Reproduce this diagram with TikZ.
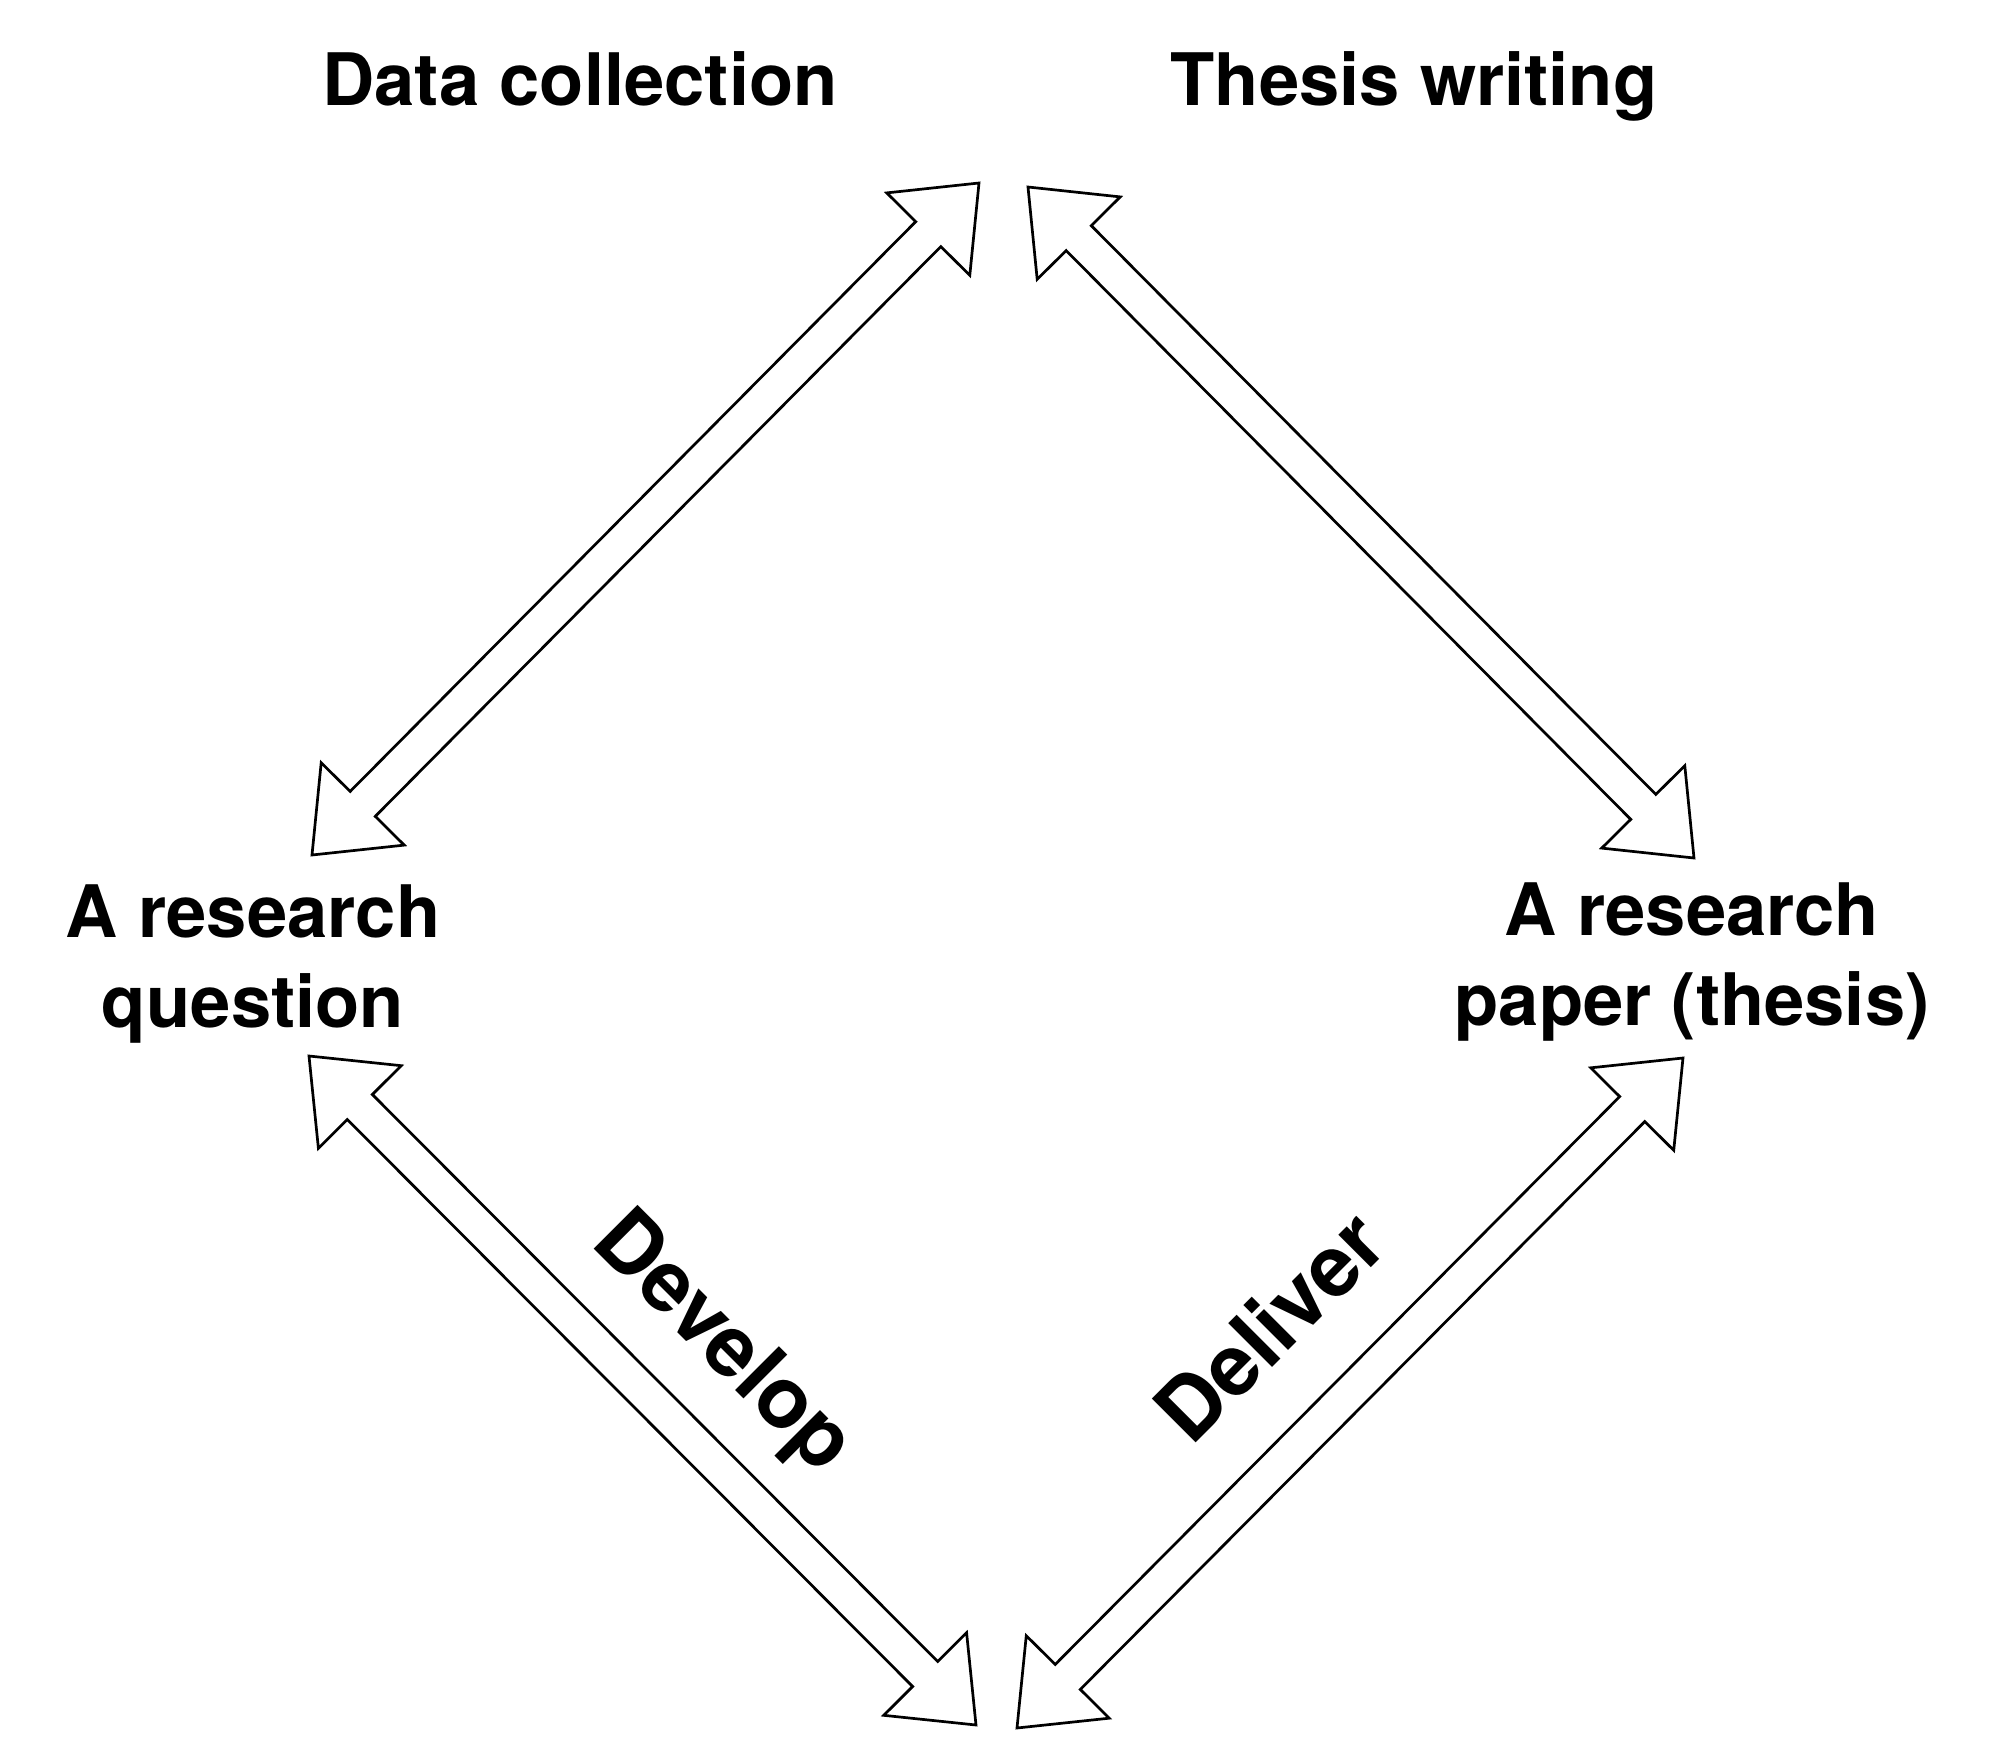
\documentclass[tikz,border=0pt]{standalone}
\usepackage{fontspec}
\setmainfont{TeX Gyre Heros}
\usetikzlibrary{calc}
\newcommand{\ahlen}{7.2mm}
\newcommand{\ahwid}{5.85mm}
\newcommand{\shwid}{1.77mm}
\newcommand{\dblarr}[2]{%
  \draw[arrowbody] (#1)
    -- ($(#1)!\ahlen!(#2)!\ahwid!90:(#2)$)
    -- ($(#1)!\ahlen!(#2)!\shwid!90:(#2)$)
    -- ($(#2)!\ahlen!(#1)!\shwid!-90:(#1)$)
    -- ($(#2)!\ahlen!(#1)!\ahwid!-90:(#1)$)
    -- (#2)
    -- ($(#2)!\ahlen!(#1)!\ahwid!90:(#1)$)
    -- ($(#2)!\ahlen!(#1)!\shwid!90:(#1)$)
    -- ($(#1)!\ahlen!(#2)!\shwid!-90:(#2)$)
    -- ($(#1)!\ahlen!(#2)!\ahwid!-90:(#2)$)
    -- cycle;}
\tikzset{
  arrowbody/.style={draw=black, fill=white, line width=0.27mm, line join=miter},
  label/.style={inner sep=0pt, outer sep=0pt, font=\fontsize{20.6pt}{25.45pt}\selectfont\bfseries, align=center},
  slabel/.style={inner sep=0pt, outer sep=0pt, font=\fontsize{24.2pt}{29pt}\selectfont\bfseries}
}
\begin{document}
\begin{tikzpicture}[x=0.1mm,y=-0.1mm]
\useasboundingbox[fill=white] (0,0) rectangle (2000,1756);
% labels
\node[label, anchor=base] (data) at (580,105) {Data collection};
\node[label, anchor=base] (thesis) at (1414,105) {Thesis writing};
\node[label] (question) at (253,964) {A research\\question};
\node[label] (paper) at (1692,962) {A research\\paper (thesis)};
% arrow tips
\coordinate (a1t) at (979,183);
\coordinate (a1b) at (312,855);
\coordinate (a2t) at (1028,187);
\coordinate (a2b) at (1694,858);
\coordinate (a3t) at (309,1056);
\coordinate (a3b) at (976,1725);
\coordinate (a4t) at (1683,1058);
\coordinate (a4b) at (1017,1728);
\dblarr{a1t}{a1b}
\dblarr{a2t}{a2b}
\dblarr{a3t}{a3b}
\dblarr{a4t}{a4b}
% rotated labels
\node[slabel, rotate=-45] (develop) at (721,1345) {Develop};
\node[slabel, rotate=45] (deliver) at (1269,1326) {Deliver};
\end{tikzpicture}
\end{document}
